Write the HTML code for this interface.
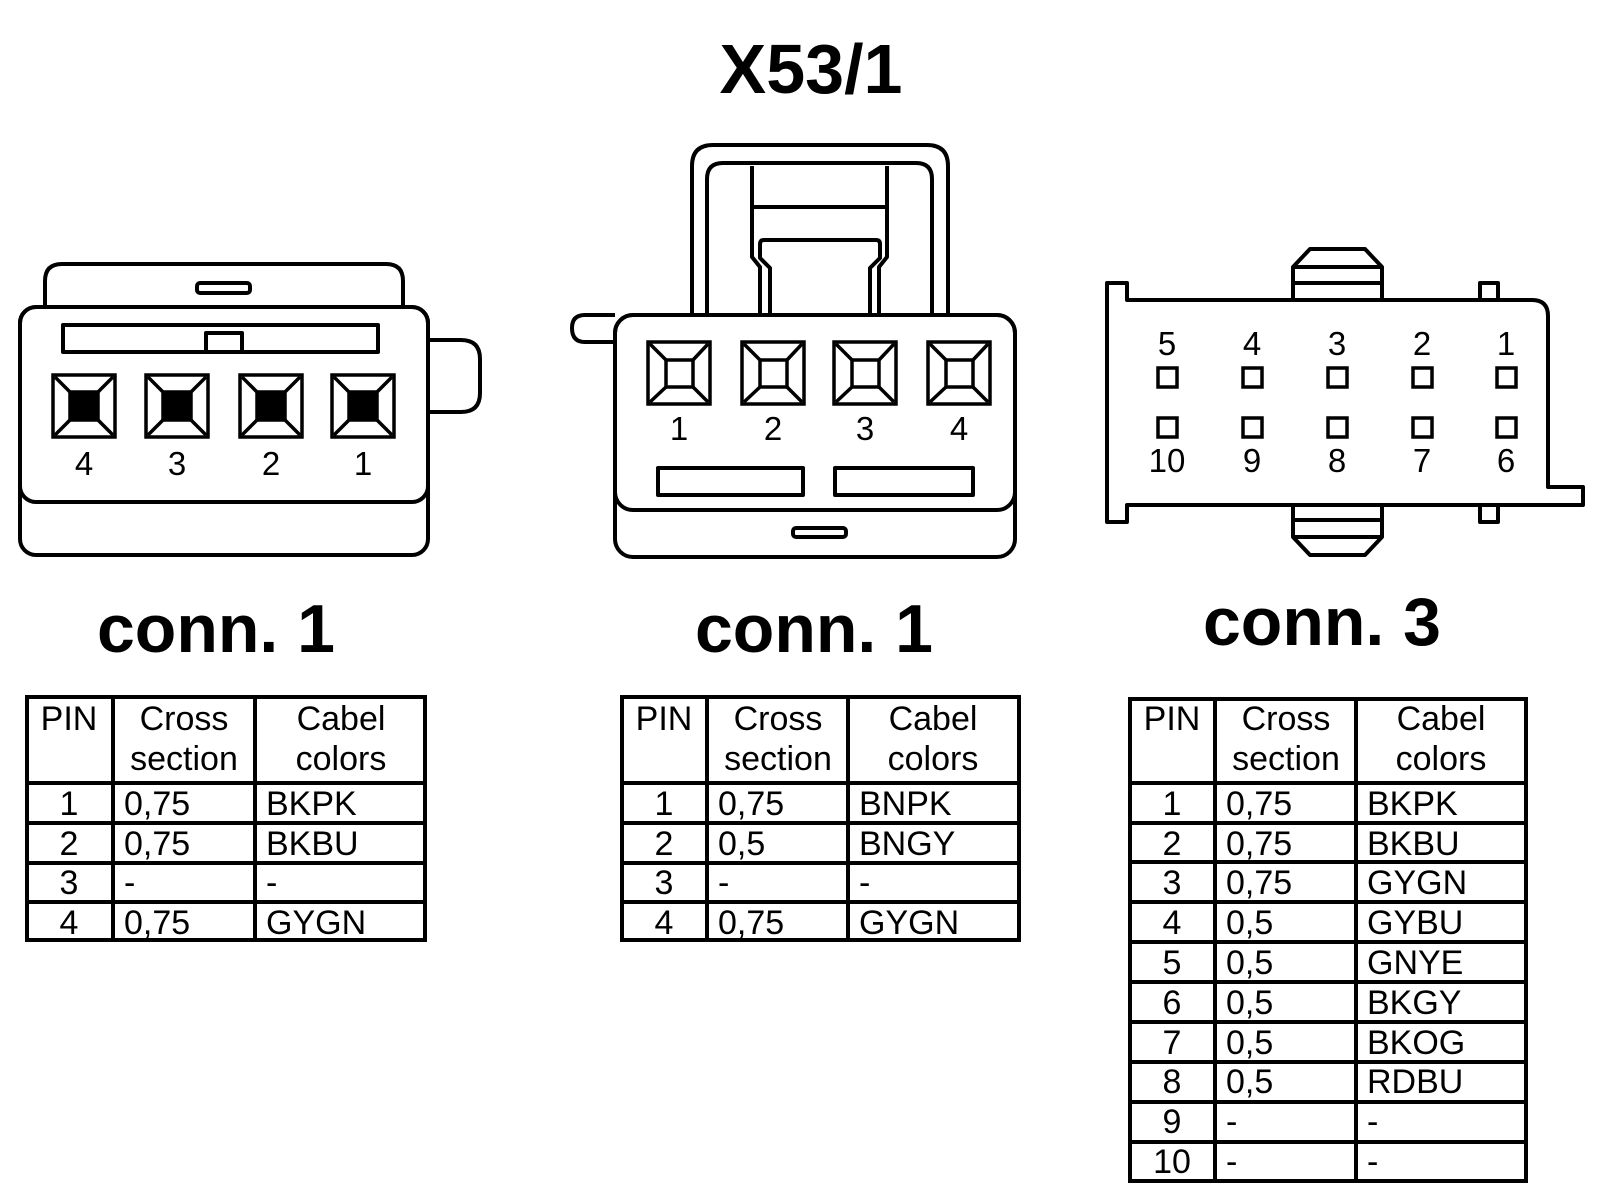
<!DOCTYPE html>
<html><head><meta charset="utf-8"><style>
html,body{margin:0;padding:0;background:#fff;}
svg{display:block;}
text{font-family:"Liberation Sans",Arial,sans-serif;fill:#000;}
.t{font-size:34px;}
.n{font-size:33px;}
.b{font-weight:bold;}
</style></head><body>
<svg width="1600" height="1204" viewBox="0 0 1600 1204" xmlns="http://www.w3.org/2000/svg">
<g fill="none" stroke="#000" stroke-width="4" stroke-linejoin="round">
<!-- Connector 1 left -->
<path d="M45,307 V281 Q45,264 62,264 H386 Q403,264 403,281 V307"/>
<rect x="197" y="283" width="53" height="10" rx="3"/>
<path d="M428,340 H461 Q480,340 480,359 V393 Q480,412 461,412 H428"/>
<rect x="20" y="307" width="408" height="248" rx="16"/>
<rect x="20" y="307" width="408" height="195" rx="16"/>
<rect x="63" y="325" width="315" height="27"/>
<rect x="206" y="333" width="36" height="19"/>
</g>
<g stroke="#000" stroke-width="3.5">
<g transform="translate(53,375)"><rect x="0" y="0" width="62" height="62" fill="none"/><rect x="17" y="17" width="28" height="28" fill="#000"/><path d="M2,2 L17,17 M60,2 L45,17 M2,60 L17,45 M60,60 L45,45"/></g>
<g transform="translate(146,375)"><rect x="0" y="0" width="62" height="62" fill="none"/><rect x="17" y="17" width="28" height="28" fill="#000"/><path d="M2,2 L17,17 M60,2 L45,17 M2,60 L17,45 M60,60 L45,45"/></g>
<g transform="translate(240,375)"><rect x="0" y="0" width="62" height="62" fill="none"/><rect x="17" y="17" width="28" height="28" fill="#000"/><path d="M2,2 L17,17 M60,2 L45,17 M2,60 L17,45 M60,60 L45,45"/></g>
<g transform="translate(332,375)"><rect x="0" y="0" width="62" height="62" fill="none"/><rect x="17" y="17" width="28" height="28" fill="#000"/><path d="M2,2 L17,17 M60,2 L45,17 M2,60 L17,45 M60,60 L45,45"/></g>
</g>
<g class="n" text-anchor="middle">
<text x="84" y="475">4</text><text x="177" y="475">3</text><text x="271" y="475">2</text><text x="363" y="475">1</text>
</g>

<!-- Connector 1 middle -->
<g fill="none" stroke="#000" stroke-width="4" stroke-linejoin="round">
<path d="M692,315 V166 Q692,145 713,145 H927 Q948,145 948,166 V315"/>
<path d="M707,315 V179 Q707,163 723,163 H916 Q932,163 932,179 V315"/>
<path d="M752,166 V257 L760,267 V315"/>
<path d="M887,166 V257 L879,267 V315"/>
<path d="M752,207 H887"/>
<path d="M770,315 V268 L760,258 V244 Q760,240 764,240 H876 Q880,240 880,244 V258 L870,268 V315"/>
<path d="M615,315 H585 Q572,315 572,328 Q572,342 585,342 H615"/>
<rect x="615" y="315" width="400" height="242" rx="18" fill="#fff"/>
<rect x="615" y="315" width="400" height="195" rx="18"/>
<rect x="658" y="468" width="145" height="27"/>
<rect x="835" y="468" width="138" height="27"/>
<rect x="793" y="528" width="53" height="9" rx="3"/>
</g>
<g stroke="#000" stroke-width="3.5" fill="none">
<g transform="translate(648,342)"><rect width="62" height="62"/><rect x="18" y="18" width="27" height="27"/><path d="M2,2 L18,18 M60,2 L45,18 M2,60 L18,45 M60,60 L45,45"/></g>
<g transform="translate(742,342)"><rect width="62" height="62"/><rect x="18" y="18" width="27" height="27"/><path d="M2,2 L18,18 M60,2 L45,18 M2,60 L18,45 M60,60 L45,45"/></g>
<g transform="translate(834,342)"><rect width="62" height="62"/><rect x="18" y="18" width="27" height="27"/><path d="M2,2 L18,18 M60,2 L45,18 M2,60 L18,45 M60,60 L45,45"/></g>
<g transform="translate(928,342)"><rect width="62" height="62"/><rect x="18" y="18" width="27" height="27"/><path d="M2,2 L18,18 M60,2 L45,18 M2,60 L18,45 M60,60 L45,45"/></g>
</g>
<g class="n" text-anchor="middle">
<text x="679" y="440">1</text><text x="773" y="440">2</text><text x="865" y="440">3</text><text x="959" y="440">4</text>
</g>

<!-- Connector 3 -->
<g fill="none" stroke="#000" stroke-width="4" stroke-linejoin="round">
<path d="M1127,300 H1532 Q1548,300 1548,316 V487 H1583 V505 H1127 V522 H1107 V283 H1127 Z"/>
<path d="M1293,300 V267 L1310,249 H1365 L1382,267 V300 M1293,267 H1382 M1293,283 H1382"/>
<path d="M1293,505 V537 L1310,555 H1365 L1382,537 V505 M1293,520 H1382 M1293,537 H1382"/>
<rect x="1480" y="283" width="18" height="17"/>
<rect x="1480" y="505" width="18" height="17"/>
</g>
<g fill="none" stroke="#000" stroke-width="3.5">
<rect x="1158" y="368" width="19" height="19"/><rect x="1243" y="368" width="19" height="19"/><rect x="1328" y="368" width="19" height="19"/><rect x="1413" y="368" width="19" height="19"/><rect x="1497" y="368" width="19" height="19"/>
<rect x="1158" y="418" width="19" height="19"/><rect x="1243" y="418" width="19" height="19"/><rect x="1328" y="418" width="19" height="19"/><rect x="1413" y="418" width="19" height="19"/><rect x="1497" y="418" width="19" height="19"/>
</g>
<g class="n" text-anchor="middle">
<text x="1167" y="355">5</text><text x="1252" y="355">4</text><text x="1337" y="355">3</text><text x="1422" y="355">2</text><text x="1506" y="355">1</text>
<text x="1167" y="472">10</text><text x="1252" y="472">9</text><text x="1337" y="472">8</text><text x="1422" y="472">7</text><text x="1506" y="472">6</text>
</g>

<!-- Titles -->
<g class="b" text-anchor="middle">
<text x="811" y="93" font-size="70">X53/1</text>
<text x="216" y="652" font-size="68">conn. 1</text>
<text x="814" y="652" font-size="68">conn. 1</text>
<text x="1322" y="645" font-size="68">conn. 3</text>
</g>

<!-- Table 1 -->
<g fill="none" stroke="#000" stroke-width="4">
<rect x="27" y="697" width="398" height="243"/>
<path d="M113,697 V940 M255,697 V940 M27,783 H425 M27,823 H425 M27,863 H425 M27,902 H425"/>
</g>
<g class="t">
<text x="69" y="730" text-anchor="middle">PIN</text>
<text x="184" y="730" text-anchor="middle">Cross</text>
<text x="184" y="770" text-anchor="middle">section</text>
<text x="341" y="730" text-anchor="middle">Cabel</text>
<text x="341" y="770" text-anchor="middle">colors</text>
<g text-anchor="middle"><text x="69" y="815">1</text><text x="69" y="855">2</text><text x="69" y="894">3</text><text x="69" y="934">4</text></g>
<text x="124" y="815">0,75</text><text x="124" y="855">0,75</text><text x="124" y="894">-</text><text x="124" y="934">0,75</text>
<text x="266" y="815">BKPK</text><text x="266" y="855">BKBU</text><text x="266" y="894">-</text><text x="266" y="934">GYGN</text>
</g>

<!-- Table 2 -->
<g fill="none" stroke="#000" stroke-width="4">
<rect x="622" y="697" width="397" height="243"/>
<path d="M707,697 V940 M848,697 V940 M622,783 H1019 M622,823 H1019 M622,863 H1019 M622,902 H1019"/>
</g>
<g class="t">
<text x="664" y="730" text-anchor="middle">PIN</text>
<text x="778" y="730" text-anchor="middle">Cross</text>
<text x="778" y="770" text-anchor="middle">section</text>
<text x="933" y="730" text-anchor="middle">Cabel</text>
<text x="933" y="770" text-anchor="middle">colors</text>
<g text-anchor="middle"><text x="664" y="815">1</text><text x="664" y="855">2</text><text x="664" y="894">3</text><text x="664" y="934">4</text></g>
<text x="718" y="815">0,75</text><text x="718" y="855">0,5</text><text x="718" y="894">-</text><text x="718" y="934">0,75</text>
<text x="859" y="815">BNPK</text><text x="859" y="855">BNGY</text><text x="859" y="894">-</text><text x="859" y="934">GYGN</text>
</g>

<!-- Table 3 -->
<g fill="none" stroke="#000" stroke-width="4">
<rect x="1130" y="699" width="396" height="482"/>
<path d="M1215,699 V1181 M1356,699 V1181 M1130,783 H1526 M1130,823 H1526 M1130,862 H1526 M1130,902 H1526 M1130,942 H1526 M1130,982 H1526 M1130,1022 H1526 M1130,1062 H1526 M1130,1102 H1526 M1130,1142 H1526"/>
</g>
<g class="t">
<text x="1172" y="730" text-anchor="middle">PIN</text>
<text x="1286" y="730" text-anchor="middle">Cross</text>
<text x="1286" y="770" text-anchor="middle">section</text>
<text x="1441" y="730" text-anchor="middle">Cabel</text>
<text x="1441" y="770" text-anchor="middle">colors</text>
<g text-anchor="middle">
<text x="1172" y="815">1</text><text x="1172" y="855">2</text><text x="1172" y="894">3</text><text x="1172" y="934">4</text><text x="1172" y="974">5</text><text x="1172" y="1014">6</text><text x="1172" y="1054">7</text><text x="1172" y="1093">8</text><text x="1172" y="1133">9</text><text x="1172" y="1173">10</text>
</g>
<text x="1226" y="815">0,75</text><text x="1226" y="855">0,75</text><text x="1226" y="894">0,75</text><text x="1226" y="934">0,5</text><text x="1226" y="974">0,5</text><text x="1226" y="1014">0,5</text><text x="1226" y="1054">0,5</text><text x="1226" y="1093">0,5</text><text x="1226" y="1133">-</text><text x="1226" y="1173">-</text>
<text x="1367" y="815">BKPK</text><text x="1367" y="855">BKBU</text><text x="1367" y="894">GYGN</text><text x="1367" y="934">GYBU</text><text x="1367" y="974">GNYE</text><text x="1367" y="1014">BKGY</text><text x="1367" y="1054">BKOG</text><text x="1367" y="1093">RDBU</text><text x="1367" y="1133">-</text><text x="1367" y="1173">-</text>
</g>
</svg>
</body></html>
